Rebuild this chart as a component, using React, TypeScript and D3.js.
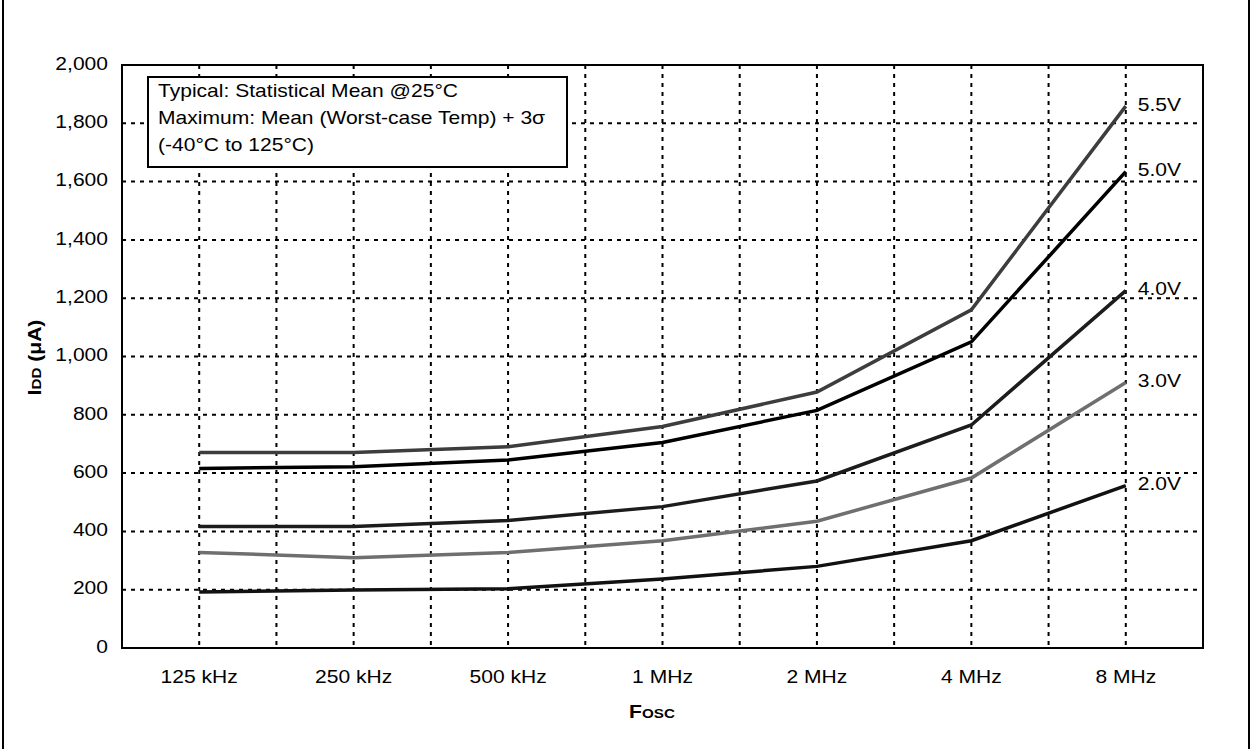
import React from "react";
import * as d3 from "d3";

// frequency categories on the x axis
const categories = ["125 kHz", "250 kHz", "500 kHz", "1 MHz", "2 MHz", "4 MHz", "8 MHz"];

// IDD (uA) per supply voltage
const v55 = [671, 671, 690, 760, 878, 1160, 1859];
const v50 = [616, 622, 645, 705, 815, 1050, 1634];
const v40 = [417, 417, 437, 485, 573, 765, 1226];
const v30 = [328, 310, 328, 368, 435, 583, 911];
const v20 = [192, 199, 203, 237, 280, 368, 557];

const seriesNames = ["5.5V", "5.0V", "4.0V", "3.0V", "2.0V"];
const seriesValues = [v55, v50, v40, v30, v20];
const seriesColors = ["#3d3d3d", "#000000", "#1c1c1c", "#6f6f6f", "#111111"];

const yTicks = [0, 200, 400, 600, 800, 1000, 1200, 1400, 1600, 1800, 2000];

const noteLines = [
  "Typical: Statistical Mean @25°C",
  "Maximum: Mean (Worst-case Temp) + 3σ",
  "(-40°C to 125°C)",
];

const W = 1250;
const H = 749;
const margin = { top: 65, right: 47, bottom: 101, left: 122 };
const FONT = "'Liberation Sans', Arial, Helvetica, sans-serif";
const FS = 18;
const SX = 1.17; // the original lettering is a bit wider than Arial

// text placed at (x,y) and stretched horizontally
const T = ({ x, y, anchor = "start", baseline, rotate = 0, bold = false, children }: any) => (
  <g transform={`translate(${x},${y}) rotate(${rotate}) scale(${SX},1)`}>
    <text
      textAnchor={anchor}
      dominantBaseline={baseline}
      fontSize={FS}
      fontWeight={bold ? "bold" : "normal"}
      fill="#000"
    >
      {children}
    </text>
  </g>
);

const App = () => {
  const plotW = W - margin.left - margin.right;
  const plotH = H - margin.top - margin.bottom;

  const x = d3.scaleBand().domain(categories).range([0, plotW]).padding(0);
  const xc = (c: string) => (x(c) as number) + x.bandwidth() / 2;
  const y = d3.scaleLinear().domain([0, 2000]).range([plotH, 0]);

  // vertical grid at every category centre and every boundary
  const vGrid: number[] = [];
  categories.forEach((c, i) => {
    if (i > 0) vGrid.push(x(c) as number);
    vGrid.push(xc(c));
  });

  const line = d3
    .line<number>()
    .x((_, i) => xc(categories[i]))
    .y((d) => y(d));

  const fmt = d3.format(",");

  return (
    <svg
      width={W}
      height={H}
      style={{ position: "fixed", left: 0, top: 0, background: "#fff" }}
      fontFamily={FONT}
    >
      <rect x={0} y={0} width={W} height={H} fill="#fff" />
      {/* outer frame */}
      <rect x={3} y={-3} width={W - 4} height={H + 6} fill="none" stroke="#000" strokeWidth={2} />

      <g transform={`translate(${margin.left},${margin.top})`}>
        {/* grid */}
        {yTicks
          .filter((t) => t > 0 && t < 2000)
          .map((t) => (
            <line
              key={"h" + t}
              x1={0}
              x2={plotW}
              y1={y(t)}
              y2={y(t)}
              stroke="#000"
              strokeWidth={2}
              strokeDasharray="4,5"
            />
          ))}
        {vGrid.map((gx, i) => (
          <line
            key={"v" + i}
            x1={gx}
            x2={gx}
            y1={0}
            y2={plotH}
            stroke="#000"
            strokeWidth={2}
            strokeDasharray="4,5"
          />
        ))}

        {/* note box */}
        <rect x={26} y={12} width={419} height={90} fill="#fff" stroke="#000" strokeWidth={2} />
        {noteLines.map((t, i) => (
          <T key={t} x={36} y={32 + i * 27}>
            {t}
          </T>
        ))}

        {/* series */}
        {seriesValues.map((vals, i) => (
          <g key={seriesNames[i]}>
            <path d={line(vals) as string} fill="none" stroke={seriesColors[i]} strokeWidth={3.5} />
            <T x={xc(categories[categories.length - 1]) + 12} y={y(vals[vals.length - 1])} baseline="middle">
              {seriesNames[i]}
            </T>
          </g>
        ))}

        {/* plot frame */}
        <rect x={0} y={0} width={plotW} height={plotH} fill="none" stroke="#000" strokeWidth={2} />

        {/* y tick labels */}
        {yTicks.map((t) => (
          <T key={"yt" + t} x={-14} y={y(t)} anchor="end" baseline="middle">
            {fmt(t)}
          </T>
        ))}

        {/* x tick labels */}
        {categories.map((c) => (
          <T key={c} x={xc(c)} y={plotH + 35} anchor="middle">
            {c}
          </T>
        ))}

        {/* axis titles */}
        <T x={530} y={plotH + 70} anchor="middle" bold>
          F<tspan fontSize={13}>OSC</tspan>
        </T>
        <T x={-81} y={plotH / 2 + 1} anchor="middle" rotate={-90} bold>
          I<tspan fontSize={13}>DD</tspan> (μA)
        </T>
      </g>
    </svg>
  );
};

export default App;
